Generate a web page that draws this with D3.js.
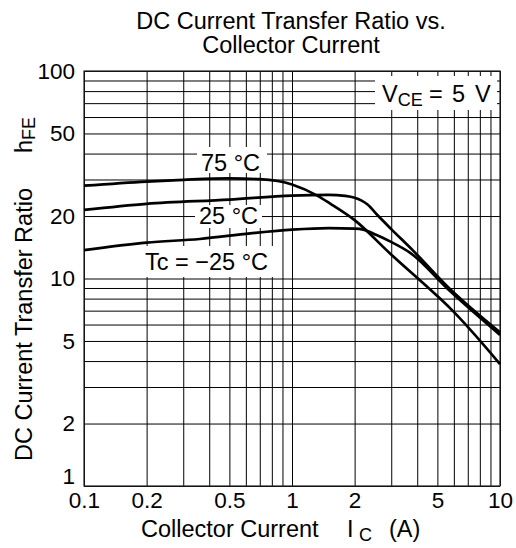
<!DOCTYPE html>
<html><head><meta charset="utf-8">
<script src="https://cdn.jsdelivr.net/npm/d3@7"></script>
<style>body{margin:0;background:#fff}text{font-family:"Liberation Sans",Arial,Helvetica,sans-serif;fill:#000}</style>
</head><body><svg id="c" width="516" height="548"></svg>
<script>
// ---- data ----
const xTickValues = [0.1, 0.2, 0.5, 1, 2, 5, 10];
const xTickLabels = ["0.1", "0.2", "0.5", "1", "2", "5", "10"];
const yTickValues = [1, 2, 5, 10, 20, 50, 100];
const yTickLabels = ["1", "2", "5", "10", "20", "50", "100"];
const seriesNames = ["75 °C", "25 °C", "Tc = −25 °C"];
const ic75  = [0.1, 0.2, 0.3, 0.5, 0.7, 1.0, 1.33, 1.52, 2.0, 2.96, 4.95, 5.75, 10];
const hfe75 = [28.0, 29.3, 29.9, 30.4, 30.1, 28.4, 25.0, 23.0, 19.1, 13.2, 8.3, 7.2, 3.87];
const ic25  = [0.1, 0.2, 0.5, 1.0, 1.5, 1.8, 2.0, 2.15, 2.3, 2.6, 3.0, 3.8, 5.75, 10];
const hfe25 = [21.4, 22.9, 24.0, 25.1, 25.3, 25.0, 24.5, 23.8, 22.8, 20.0, 17.3, 13.7, 8.9, 5.5];
const icM25  = [0.1, 0.2, 0.36, 0.63, 1.0, 1.5, 2.0, 2.2, 2.55, 2.96, 3.7, 5.75, 10];
const hfeM25 = [13.7, 14.9, 15.5, 16.5, 17.2, 17.5, 17.4, 17.2, 16.2, 15.1, 13.3, 8.7, 5.35];

// ---- layout ----
const L = 84, R = 500, T = 71, B = 486;
const FONT = 23.5, TICKFONT = 22.5, SUBFONT = 18;
const svg = d3.select("#c");
const x = d3.scaleLog().domain([0.1, 10]).range([L, R]);
const y = d3.scaleLog().domain([1, 100]).range([B, T]);

// grid via axes
const gx = svg.append("g").attr("transform", `translate(0,${B})`)
  .call(d3.axisBottom(x).tickValues(x.ticks()).tickSize(-(B - T)).tickPadding(6)
    .tickFormat(d => { const i = xTickValues.findIndex(v => Math.abs(v - d) < 1e-9); return i >= 0 ? xTickLabels[i] : ""; }));
const gy = svg.append("g").attr("transform", `translate(${L},0)`)
  .call(d3.axisLeft(y).tickValues(y.ticks()).tickSize(-(R - L)).tickPadding(9)
    .tickFormat(d => { const i = yTickValues.findIndex(v => Math.abs(v - d) < 1e-9); return i >= 0 ? yTickLabels[i] : ""; }));
[gx, gy].forEach(g => {
  g.select(".domain").remove();
  g.selectAll(".tick line").attr("stroke", "#000").attr("stroke-width", 1);
  g.selectAll(".tick text").attr("font-size", TICKFONT).attr("font-family", null).attr("fill", "#000");
});
// lowest y label sits above the corner
gy.selectAll(".tick text").filter(d => Math.abs(d - 1) < 1e-9).attr("dy", "-0.12em");
svg.append("rect").attr("x", L).attr("y", T).attr("width", R - L).attr("height", B - T)
  .attr("fill", "none").attr("stroke", "#222").attr("stroke-width", 1.2);

// label boxes (white backgrounds)
function box(x0, y0, w, h) {
  svg.append("rect").attr("x", x0).attr("y", y0).attr("width", w).attr("height", h).attr("fill", "#fff");
}
box(375, 76, 122, 34);
box(197, 147, 70, 26);
box(195, 205, 67, 23);
box(141, 246, 133, 31);

// series labels
svg.append("text").attr("x", 201).attr("y", 170.5).attr("font-size", FONT).text(seriesNames[0]);
svg.append("text").attr("x", 199).attr("y", 223.5).attr("font-size", FONT).text(seriesNames[1]);
svg.append("text").attr("x", 145).attr("y", 270).attr("font-size", FONT).text(seriesNames[2]);

// VCE label
const vce = svg.append("text").attr("y", 101.5).attr("font-size", FONT);
vce.append("tspan").attr("x", 382).text("V");
vce.append("tspan").attr("dy", 4).attr("font-size", SUBFONT).text("CE");
vce.append("tspan").attr("dy", -4).attr("x", 429).text("=");
vce.append("tspan").attr("x", 452).text("5");
vce.append("tspan").attr("x", 475).text("V");

// curves
const line = d3.line().x(d => x(d[0])).y(d => y(d[1])).curve(d3.curveMonotoneX);
[[ic75, hfe75], [ic25, hfe25], [icM25, hfeM25]].forEach(([xs, ys]) => {
  svg.append("path").datum(xs.map((v, i) => [v, ys[i]]))
    .attr("d", line).attr("fill", "none").attr("stroke", "#000").attr("stroke-width", 2.7);
});

// titles
svg.append("text").attr("x", 291).attr("y", 29).attr("text-anchor", "middle").attr("font-size", FONT).text("DC Current Transfer Ratio vs.");
svg.append("text").attr("x", 291).attr("y", 53).attr("text-anchor", "middle").attr("font-size", FONT).text("Collector Current");

// x axis title
const xt = svg.append("text").attr("y", 537).attr("font-size", FONT);
xt.append("tspan").attr("x", 141).text("Collector Current");
xt.append("tspan").attr("x", 347).text("I");
xt.append("tspan").attr("x", 359).attr("dy", 4).attr("font-size", SUBFONT).text("C");
xt.append("tspan").attr("dy", -4).attr("x", 389).text("(A)");

// y axis title
svg.append("text").attr("transform", "translate(32,461) rotate(-90)").attr("font-size", FONT).text("DC Current Transfer Ratio");
const yt = svg.append("text").attr("transform", "translate(32,153) rotate(-90)").attr("font-size", FONT);
yt.append("tspan").text("h");
yt.append("tspan").attr("dy", 3).attr("font-size", SUBFONT).text("FE");
</script></body></html>
